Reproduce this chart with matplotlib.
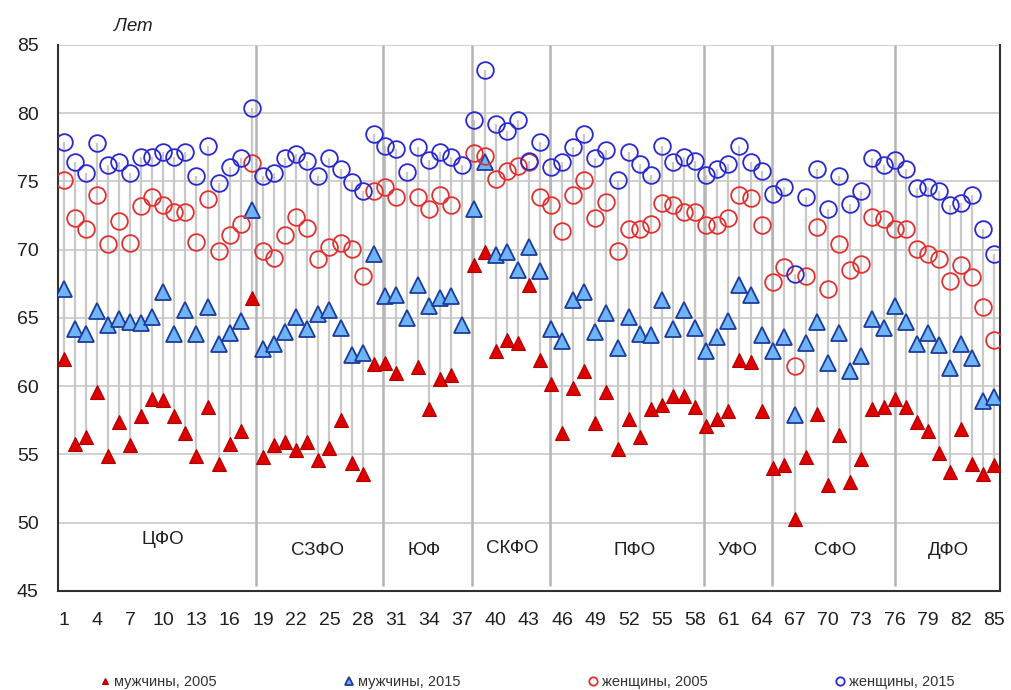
import matplotlib
matplotlib.use("Agg")
import matplotlib.pyplot as plt
import numpy as np

nan = np.nan

regions = list(range(1, 86))

men_2005 = [62.0, 55.8, 56.25, 59.6, 54.9, 57.4, 55.7, 57.85, 59.1, 59.0, 57.85, 56.6, 54.9, 58.5, 54.3, 55.75, 56.7, 66.5,
            54.8, 55.7, 55.9, 55.35, 55.95, 54.6, 55.5, 57.5, 54.4, 53.6, 61.6,
            61.7, 61.0, nan, 61.4, 58.3, 60.5, 60.8, nan,
            68.9, 69.8, 62.6, 63.4, 63.2, 67.4, 61.9,
            60.2, 56.6, 59.9, 61.1, 57.3, 59.6, 55.4, 57.6, 56.3, 58.35, 58.6, 59.3, 59.3, 58.5,
            57.1, 57.6, 58.2, 61.9, 61.8, 58.2,
            54.0, 54.25, 50.3, 54.8, 58.0, 52.8, 56.45, 53.0, 54.7, 58.35, 58.45, 59.1,
            58.45, 57.4, 56.7, 55.1, 53.75, 56.9, 54.3, 53.6, 54.2]

men_2015 = [67.1, 64.2, 63.8, 65.5, 64.5, 64.9, 64.7, 64.6, 65.1, 66.9, 63.8, 65.6, 63.85, 65.8, 63.1, 63.9, 64.8, 72.9,
            62.7, 63.1, 64.0, 65.1, 64.2, 65.3, 65.6, 64.3, 62.3, 62.45, 69.7,
            66.6, 66.7, 65.0, 67.4, 65.9, 66.5, 66.6, 64.5,
            73.0, 76.4, 69.6, 69.8, 68.5, 70.2, 68.45,
            64.2, 63.3, 66.3, 66.9, 64.0, 65.4, 62.8, 65.1, 63.85, 63.75, 66.3, 64.2, 65.6, 64.3,
            62.6, 63.6, 64.8, 67.4, 66.7, 63.75,
            62.6, 63.6, 57.9, 63.2, 64.7, 61.7, 63.9, 61.1, 62.2, 64.9, 64.3, 65.9,
            64.7, 63.1, 63.9, 63.0, 61.35, 63.1, 62.1, 58.95, 59.2]

women_2005 = [75.1, 72.3, 71.5, 74.0, 70.4, 72.1, 70.5, 73.2, 73.9, 73.3, 72.8, 72.8, 70.6, 73.7, 69.9, 71.1, 71.9, 76.35,
              69.9, 69.4, 71.1, 72.4, 71.6, 69.3, 70.2, 70.5, 70.05, 68.1, 74.3,
              74.6, 73.85, nan, 73.85, 73.0, 74.0, 73.3, nan,
              77.1, 76.9, 75.2, 75.8, 76.1, 76.4, 73.9,
              73.3, 71.4, 74.0, 75.1, 72.3, 73.5, 69.9, 71.5, 71.5, 71.9, 73.4, 73.3, 72.8, 72.8,
              71.8, 71.8, 72.3, 74.0, 73.8, 71.8,
              67.6, 68.75, 61.5, 68.1, 71.7, 67.1, 70.4, 68.5, 68.95, 72.4, 72.25, 71.5,
              71.5, 70.05, 69.7, 69.3, 67.7, 68.9, 68.0, 65.8, 63.4]

women_2015 = [77.9, 76.4, 75.6, 77.8, 76.2, 76.4, 75.6, 76.8, 76.8, 77.15, 76.8, 77.15, 75.4, 77.6, 74.9, 76.05, 76.7, 80.35,
              75.4, 75.6, 76.7, 77.0, 76.5, 75.4, 76.7, 75.9, 74.95, 74.3, 78.45,
              77.6, 77.4, 75.7, 77.5, 76.6, 77.15, 76.8, 76.2,
              79.5, 83.2, 79.2, 78.7, 79.5, 76.5, 77.9,
              76.05, 76.4, 77.5, 78.5, 76.7, 77.3, 75.1, 77.15, 76.25, 75.5, 77.6, 76.4, 76.8, 76.5,
              75.5, 75.9, 76.25, 77.6, 76.4, 75.8,
              74.1, 74.6, 68.25, 73.9, 75.9, 73.0, 75.4, 73.35, 74.3, 76.7, 76.2, 76.6,
              75.9, 74.5, 74.6, 74.3, 73.3, 73.4, 74.0, 71.5, 69.7]

districts = ["ЦФО", "СЗФО", "ЮФ", "СКФО", "ПФО", "УФО", "СФО", "ДФО"]
district_label_x = [10.0, 23.9, 33.5, 41.5, 52.5, 61.8, 70.6, 80.9]
district_label_y = [48.75, 48.0, 48.0, 48.1, 48.0, 48.0, 48.0, 48.0]
district_borders = [18.35, 29.85, 37.85, 44.9, 58.8, 64.9, 76.0]

plt.rcParams['font.family'] = ['Liberation Sans', 'DejaVu Sans']

fig = plt.figure(figsize=(10.12, 6.9), dpi=100)
ax = fig.add_axes([0.0573, 0.1435, 0.9307, 0.7913])

x = np.array(regions)
data = np.array([men_2005, men_2015, women_2005, women_2015])
hi = np.nanmax(data, axis=0)
lo = np.nanmin(data, axis=0)

# high-low lines
ax.vlines(x, lo, hi, color='#c8c8c8', linewidth=1.6, zorder=1)
# district separators
ax.vlines(district_borders, 45.4, 85, color='#b4b4b4', linewidth=1.8, zorder=1)

ax.plot(x, men_2005, linestyle='none', marker='^', markersize=10,
        markerfacecolor='#dd0000', markeredgecolor='#b00000', markeredgewidth=0.8,
        label='мужчины, 2005', zorder=3)
ax.plot(x, men_2015, linestyle='none', marker='^', markersize=11,
        markerfacecolor='#6fb4f4', markeredgecolor='#1c3c9c', markeredgewidth=1.3,
        label='мужчины, 2015', zorder=3)
ax.plot(x, women_2005, linestyle='none', marker='o', markersize=12,
        markerfacecolor='none', markeredgecolor='#e03232', markeredgewidth=1.3,
        label='женщины, 2005', zorder=3)
ax.plot(x, women_2015, linestyle='none', marker='o', markersize=12,
        markerfacecolor='none', markeredgecolor='#2a2ad0', markeredgewidth=1.3,
        label='женщины, 2015', zorder=3)

for name, lx, ly in zip(districts, district_label_x, district_label_y):
    ax.text(lx, ly, name, ha='center', va='center', fontsize=13.5, color='#202020')

ax.set_xlim(0.5, 85.5)
ax.set_ylim(45, 85)
ax.set_yticks(range(45, 86, 5))
ax.set_xticks(range(1, 86, 3))
ax.grid(axis='y', color='#c8c8c8', linewidth=1.2)
ax.set_axisbelow(True)
ax.tick_params(axis='both', length=0, labelsize=14, colors='#202020')
ax.tick_params(axis='x', pad=15)
ax.tick_params(axis='y', pad=14)
for side in ['left', 'bottom', 'right']:
    ax.spines[side].set_color('#303030')
    ax.spines[side].set_linewidth(1.5)
ax.spines['top'].set_visible(False)

fig.text(0.113, 0.962, 'Лет', fontsize=13.5, style='italic', ha='left', va='center', color='#202020')

fig.legend(loc='lower center', bbox_to_anchor=(0.52, -0.018), ncol=4, frameon=False,
           fontsize=10.5, markerscale=0.5, columnspacing=8.6, handletextpad=0.1,
           handlelength=1.0, labelcolor='#333333')

fig.savefig('out.png', dpi=100)
